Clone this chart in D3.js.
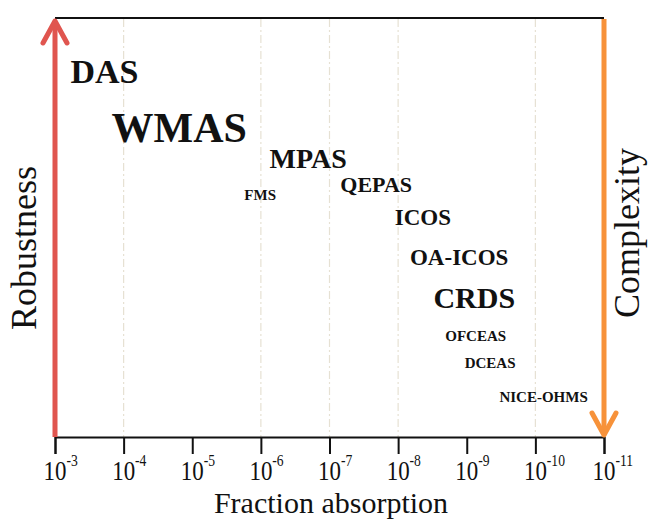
<!DOCTYPE html>
<html>
<head>
<meta charset="utf-8">
<script src="https://cdn.jsdelivr.net/npm/d3@7"></script>
<style>
  body { margin: 0; background: #fff; }
  svg { display: block; font-family: "Liberation Serif", "Times New Roman", serif; }
</style>
</head>
<body>
<div id="chart"></div>
<script>
// Axis decades (exponent of 10)
const exponents = [-3, -4, -5, -6, -7, -8, -9, -10, -11];
const gridExponents = [-4, -6, -7, -8, -10];

// Techniques: detection limit (log10 of fraction absorption) and robustness level (0..1)
const techniques = ["DAS", "WMAS", "MPAS", "FMS", "QEPAS", "ICOS", "OA-ICOS", "CRDS", "OFCEAS", "DCEAS", "NICE-OHMS"];
const sensitivity = [-3.72, -4.81, -6.69, -5.99, -7.68, -8.36, -8.89, -9.11, -9.13, -9.34, -10.12];
const robustness = [0.843, 0.702, 0.640, 0.564, 0.583, 0.505, 0.410, 0.307, 0.229, 0.164, 0.083];

// label font sizes (style only)
const labelSize = {
  "DAS": 34, "WMAS": 42, "MPAS": 28, "FMS": 15, "QEPAS": 22, "ICOS": 23,
  "OA-ICOS": 23, "CRDS": 30, "OFCEAS": 15, "DCEAS": 15, "NICE-OHMS": 15
};

const width = 649, height = 519;
const plotLeft = 55, plotRight = 604, plotTop = 17, plotBottom = 437;

const svg = d3.select("#chart").append("svg")
  .attr("width", width)
  .attr("height", height);

const x = d3.scaleLinear().domain([-3, -11]).range([plotLeft, plotRight]);
const y = d3.scaleLinear().domain([0, 1]).range([plotBottom, plotTop]);

// dashed grid lines
svg.append("g")
  .selectAll("line")
  .data(gridExponents)
  .join("line")
  .attr("x1", d => x(d)).attr("x2", d => x(d))
  .attr("y1", plotTop + 2).attr("y2", plotBottom)
  .attr("stroke", "#e6e1d3")
  .attr("stroke-width", 1.2)
  .attr("stroke-dasharray", "8,3,2,3");

// top border
svg.append("line")
  .attr("x1", plotLeft).attr("x2", plotRight)
  .attr("y1", plotTop + 1).attr("y2", plotTop + 1)
  .attr("stroke", "#111").attr("stroke-width", 2);

// x axis
const xAxis = d3.axisBottom(x)
  .tickValues(exponents)
  .tickSize(17)
  .tickFormat("");

const gx = svg.append("g")
  .attr("transform", `translate(0,${plotBottom})`)
  .call(xAxis);
gx.select(".domain").attr("stroke", "#111").attr("stroke-width", 2);
gx.selectAll(".tick line").attr("stroke", "#111").attr("stroke-width", 2);

// tick labels 10^n (slightly condensed, "10" centred on the tick)
const tickLabel = svg.append("g")
  .selectAll("text")
  .data(exponents)
  .join("text")
  .attr("transform", d => `translate(${x(d)},480) scale(0.85,1)`)
  .attr("x", -13.5)
  .attr("font-size", 27)
  .attr("fill", "#111");
tickLabel.append("tspan").text("10");
tickLabel.append("tspan")
  .attr("dy", -14)
  .attr("font-size", 16)
  .text(d => d);

// axis title
svg.append("text")
  .attr("x", 331)
  .attr("y", 513)
  .attr("text-anchor", "middle")
  .attr("font-size", 30)
  .attr("fill", "#111")
  .text("Fraction absorption");

// Robustness arrow (red, pointing up)
const red = "#e0554f";
svg.append("line")
  .attr("x1", plotLeft).attr("x2", plotLeft)
  .attr("y1", plotBottom).attr("y2", plotTop + 4)
  .attr("stroke", red).attr("stroke-width", 5);
svg.append("path")
  .attr("d", `M${plotLeft - 12},${plotTop + 26}L${plotLeft},${plotTop + 4}L${plotLeft + 12},${plotTop + 26}`)
  .attr("fill", "none").attr("stroke", red).attr("stroke-width", 5)
  .attr("stroke-linecap", "round").attr("stroke-linejoin", "round");

// Complexity arrow (orange, pointing down)
const orange = "#f7923a";
svg.append("line")
  .attr("x1", plotRight).attr("x2", plotRight)
  .attr("y1", plotTop + 2).attr("y2", plotBottom - 2)
  .attr("stroke", orange).attr("stroke-width", 5);
svg.append("path")
  .attr("d", `M${plotRight - 12},${plotBottom - 24}L${plotRight},${plotBottom - 2}L${plotRight + 12},${plotBottom - 24}`)
  .attr("fill", "none").attr("stroke", orange).attr("stroke-width", 5)
  .attr("stroke-linecap", "round").attr("stroke-linejoin", "round");

// side titles
svg.append("text")
  .attr("transform", "translate(36,248) rotate(-90)")
  .attr("text-anchor", "middle")
  .attr("font-size", 36)
  .attr("fill", "#111")
  .text("Robustness");

svg.append("text")
  .attr("transform", "translate(639,233) rotate(-90)")
  .attr("text-anchor", "middle")
  .attr("font-size", 36)
  .attr("fill", "#111")
  .text("Complexity");

// technique labels
svg.append("g")
  .selectAll("text")
  .data(techniques)
  .join("text")
  .attr("x", (d, i) => x(sensitivity[i]))
  .attr("y", (d, i) => y(robustness[i]))
  .attr("text-anchor", "middle")
  .attr("font-weight", "bold")
  .attr("font-size", d => labelSize[d])
  .attr("fill", "#111")
  .text(d => d);
</script>
</body>
</html>
